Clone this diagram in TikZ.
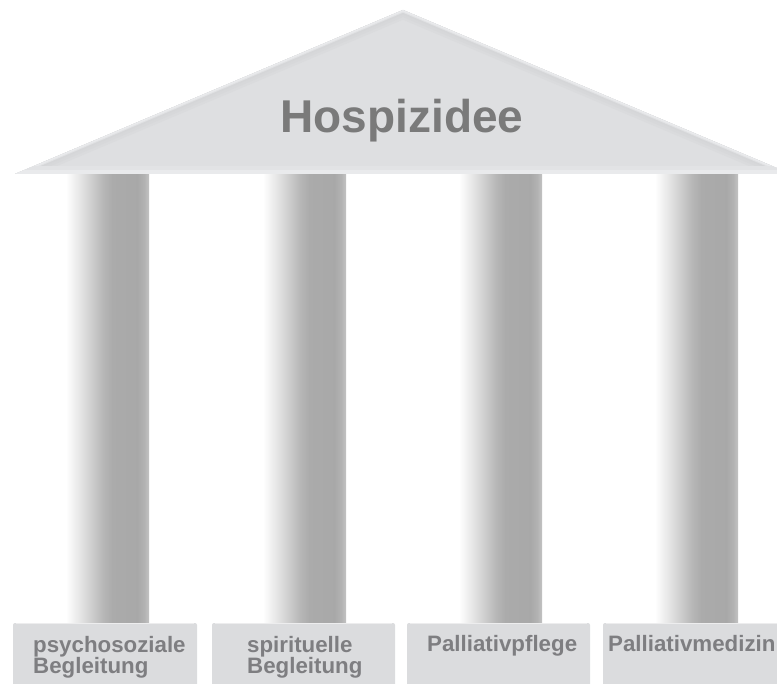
\documentclass[tikz,border=0pt]{standalone}
\usepackage{fontspec}
\setmainfont{Liberation Sans}
\begin{document}
\definecolor{roofgray}{RGB}{222,223,225}
\definecolor{roofband}{RGB}{213,214,216}
\definecolor{roofrim}{RGB}{233,234,236}
\definecolor{basegray}{RGB}{219,220,222}
\definecolor{textgray}{RGB}{126,126,129}
\pgfdeclarehorizontalshading{pillarshade}{100bp}{%
  color(0bp)=(white);
  color(25bp)=(white);
  color(30bp)=(black!6);
  color(38bp)=(black!16);
  color(47bp)=(black!28);
  color(53bp)=(black!33);
  color(68bp)=(black!34);
  color(72bp)=(black!30);
  color(75bp)=(black!24);
  color(100bp)=(black!24)}
\tikzset{
  pillar/.style={shading=pillarshade, draw=none},
  plinth/.style={fill=basegray, draw=none, rounded corners=2pt},
  plinthtop/.style={draw=white, opacity=0.5, line width=1.2pt},
  label/.style={font=\bfseries\fontsize{22.3}{22}\selectfont, text=textgray,
    inner sep=0pt, anchor=base west},
  title/.style={font=\bfseries\fontsize{46}{46}\selectfont, text=black!52,
    inner sep=0pt, anchor=base}
}
\begin{tikzpicture}[x=1pt,y=-1pt]
\useasboundingbox (0,0) rectangle (777,684);
\begin{scope}
\clip (0,0) rectangle (777,684);

% pillars
\foreach \n/\x in {1/66,2/263,3/459,4/655}{
  \shade[pillar] (\x,172) rectangle (\x+83,625);
}

% roof with soft rim
\coordinate (apex) at (403,10);
\coordinate (eaveL) at (15,174);
\coordinate (eaveR) at (791,174);
\fill[roofgray] (eaveL) -- (apex) -- (eaveR) -- cycle;
\begin{scope}
  \clip (eaveL) -- (apex) -- (eaveR) -- cycle;
  \draw[roofband!40!roofgray, line width=18pt] (eaveL) -- (apex) -- (eaveR);
  \draw[roofband!75!roofgray, line width=13pt] (eaveL) -- (apex) -- (eaveR);
  \draw[roofband, line width=8pt] (eaveL) -- (apex) -- (eaveR);
  \draw[roofrim!60!roofband, line width=5pt] (eaveL) -- (apex) -- (eaveR);
  \draw[roofrim, line width=3pt] (eaveL) -- (apex) -- (eaveR);
  \draw[roofrim!40!roofgray, line width=16pt] (eaveL) -- (eaveR);
  \draw[roofrim, line width=8pt] (eaveL) -- (eaveR);
\end{scope}
\node[title] (roof) at (402,133) {Hospizidee};

% plinths
\fill[plinth] (13,623) rectangle (197,700);
\fill[plinth] (212,623) rectangle (395,700);
\fill[plinth] (407,623) rectangle (590,700);
\fill[plinth] (603,623) rectangle (790,700);
\foreach \a/\b in {13/197,212/395,407/590,603/790}{
  \draw[plinthtop] (\a+3,623.6) -- (\b-3,623.6);
}

\node[label] (ps1) at (33,652) {psychosoziale};
\node[label] (ps2) at (33,673) {Begleitung};
\node[label] (sp1) at (247,652) {spirituelle};
\node[label] (sp2) at (247,673) {Begleitung};
\node[label] (pp) at (427,651) {Palliativpflege};
\node[label] (pm) at (608,651) {Palliativmedizin};
\end{scope}
\end{tikzpicture}
\end{document}
